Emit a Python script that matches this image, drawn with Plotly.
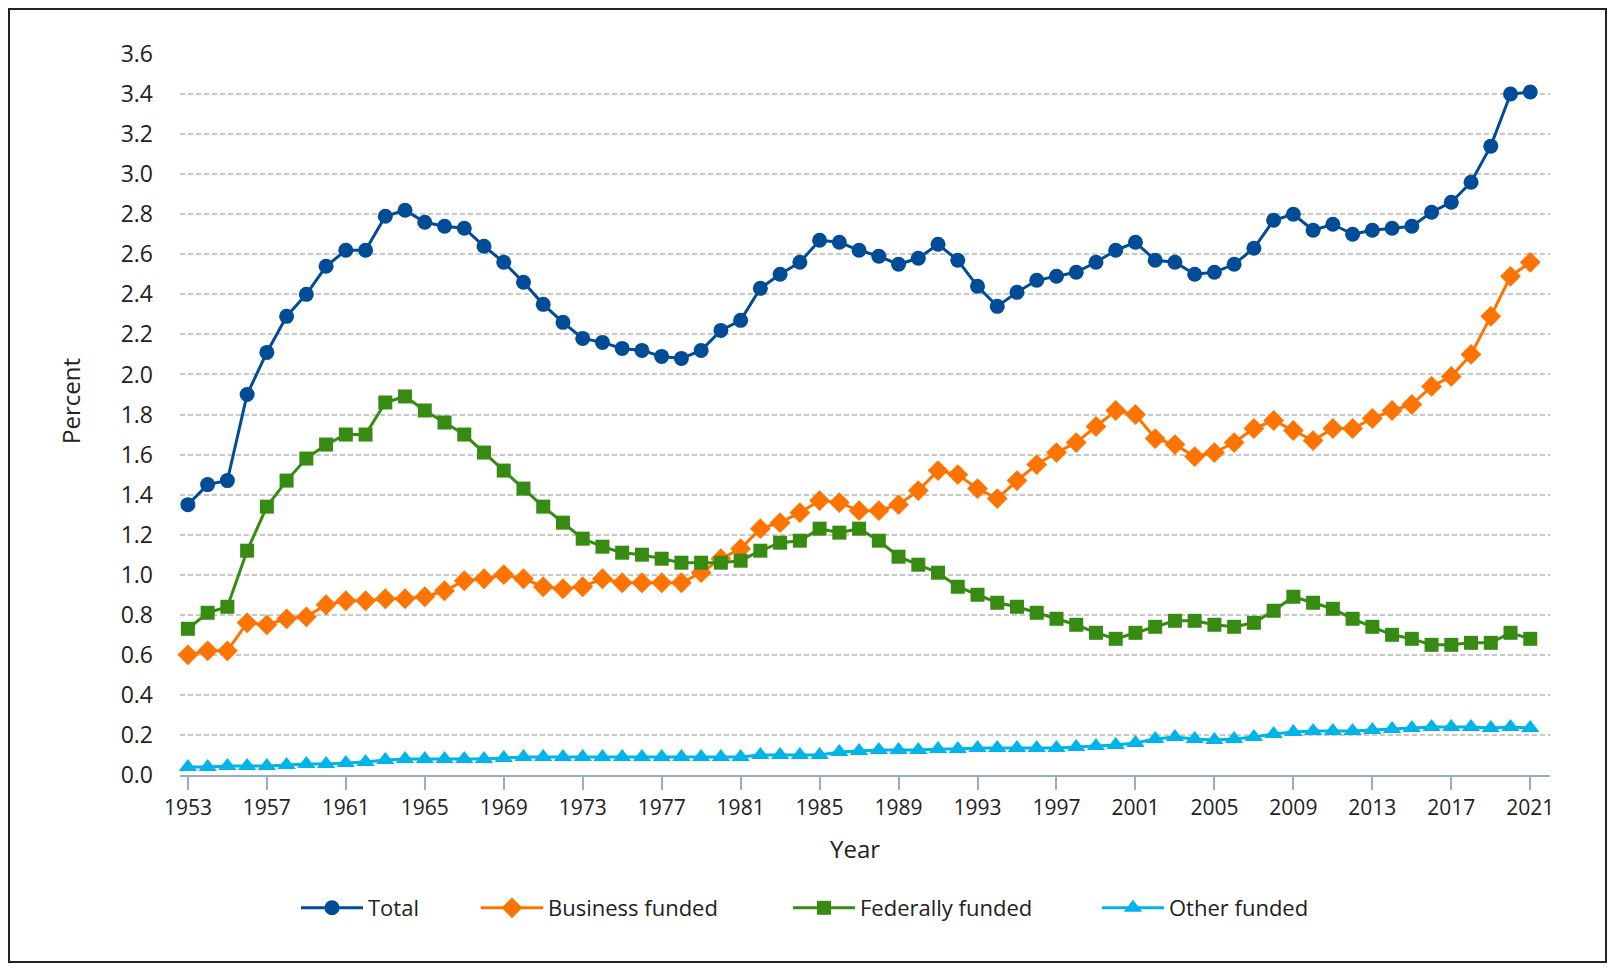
import plotly.graph_objects as go

years = list(range(1953, 2022))

total = [1.35, 1.45, 1.47, 1.90, 2.11, 2.29, 2.40, 2.54, 2.62, 2.62,
         2.79, 2.82, 2.76, 2.74, 2.73, 2.64, 2.56, 2.46, 2.35, 2.26,
         2.18, 2.16, 2.13, 2.12, 2.09, 2.08, 2.12, 2.22, 2.27, 2.43,
         2.50, 2.56, 2.67, 2.66, 2.62, 2.59, 2.55, 2.58, 2.65, 2.57,
         2.44, 2.34, 2.41, 2.47, 2.49, 2.51, 2.56, 2.62, 2.66, 2.57,
         2.56, 2.50, 2.51, 2.55, 2.63, 2.77, 2.80, 2.72, 2.75, 2.70,
         2.72, 2.73, 2.74, 2.81, 2.86, 2.96, 3.14, 3.40, 3.41]

business = [0.60, 0.62, 0.62, 0.76, 0.75, 0.78, 0.79, 0.85, 0.87, 0.87,
            0.88, 0.88, 0.89, 0.92, 0.97, 0.98, 1.00, 0.98, 0.94, 0.93,
            0.94, 0.98, 0.96, 0.96, 0.96, 0.96, 1.01, 1.08, 1.13, 1.23,
            1.26, 1.31, 1.37, 1.36, 1.32, 1.32, 1.35, 1.42, 1.52, 1.50,
            1.43, 1.38, 1.47, 1.55, 1.61, 1.66, 1.74, 1.82, 1.80, 1.68,
            1.65, 1.59, 1.61, 1.66, 1.73, 1.77, 1.72, 1.67, 1.73, 1.73,
            1.78, 1.82, 1.85, 1.94, 1.99, 2.10, 2.29, 2.49, 2.56]

federal = [0.73, 0.81, 0.84, 1.12, 1.34, 1.47, 1.58, 1.65, 1.70, 1.70,
           1.86, 1.89, 1.82, 1.76, 1.70, 1.61, 1.52, 1.43, 1.34, 1.26,
           1.18, 1.14, 1.11, 1.10, 1.08, 1.06, 1.06, 1.06, 1.07, 1.12,
           1.16, 1.17, 1.23, 1.21, 1.23, 1.17, 1.09, 1.05, 1.01, 0.94,
           0.90, 0.86, 0.84, 0.81, 0.78, 0.75, 0.71, 0.68, 0.71, 0.74,
           0.77, 0.77, 0.75, 0.74, 0.76, 0.82, 0.89, 0.86, 0.83, 0.78,
           0.74, 0.70, 0.68, 0.65, 0.65, 0.66, 0.66, 0.71, 0.68]

other = [0.04, 0.04, 0.045, 0.045, 0.045, 0.05, 0.055, 0.055, 0.06, 0.065,
         0.075, 0.08, 0.08, 0.08, 0.08, 0.08, 0.085, 0.09, 0.09, 0.09,
         0.09, 0.09, 0.09, 0.09, 0.09, 0.09, 0.09, 0.09, 0.09, 0.10,
         0.10, 0.10, 0.10, 0.115, 0.12, 0.125, 0.125, 0.125, 0.13, 0.13,
         0.135, 0.135, 0.135, 0.135, 0.135, 0.14, 0.145, 0.15, 0.16, 0.18,
         0.19, 0.18, 0.175, 0.18, 0.19, 0.205, 0.215, 0.22, 0.22, 0.22,
         0.225, 0.23, 0.235, 0.24, 0.24, 0.24, 0.235, 0.24, 0.235]

series_names = ["Total", "Business funded", "Federally funded", "Other funded"]
series_values = [total, business, federal, other]
series_colors = ["#004C97", "#FF7300", "#378A12", "#00B4EA"]
series_symbols = ["circle", "diamond", "square", "triangle-up"]
series_sizes = [15, 16, 14, 16]

x_ticks = list(range(1953, 2022, 4))
y_ticks = [round(0.2 * i, 1) for i in range(19)]
y_ticktext = [f"{v:.1f}" for v in y_ticks]

# The page body has an 8px margin, so figure pixel = screen pixel - 8
OFF = 8
W, H = 1600, 956
L, R, T, B = 180 - OFF, 1550 - OFF, 54 - OFF, 775 - OFF
pw, ph = R - L, B - T


def px_x(p):
    """screen x pixel -> paper x"""
    return (p - OFF - L) / pw


def px_y(p):
    """screen y pixel -> paper y"""
    return (B - (p - OFF)) / ph


fig = go.Figure()
legend_ids = ["legend", "legend2", "legend3", "legend4"]
legend_text_x = [368, 548, 860, 1169]   # screen px where legend texts start
LEG_Y = 908
ITEM_W = 62

for name, vals, col, sym, sz, lid in zip(series_names, series_values, series_colors,
                                          series_symbols, series_sizes, legend_ids):
    fig.add_trace(go.Scatter(
        x=years, y=vals, name=name, mode="lines+markers",
        line=dict(color=col, width=3),
        marker=dict(symbol=sym, size=sz, color=col, line=dict(width=0)),
        cliponaxis=False,
        legend=lid,
    ))

legend_font = dict(family="Open Sans", size=22, color="#222222")
legends = {}
for lid, tx in zip(legend_ids, legend_text_x):
    legends[lid] = dict(
        x=px_x(tx - (ITEM_W + 10)), y=px_y(LEG_Y), xanchor="left", yanchor="middle",
        orientation="h", font=legend_font, bgcolor="rgba(0,0,0,0)",
        borderwidth=0, itemsizing="trace", itemwidth=ITEM_W,
    )

shapes = [dict(type="rect", xref="paper", yref="paper",
               x0=px_x(9), x1=px_x(1606), y0=px_y(962), y1=px_y(9),
               line=dict(color="#222222", width=2), fillcolor="rgba(0,0,0,0)",
               layer="below")]

fig.update_layout(
    width=W, height=H,
    margin=dict(l=L, r=W - R, t=T, b=H - B),
    paper_bgcolor="white", plot_bgcolor="white",
    font=dict(family="Open Sans", color="#222222"),
    showlegend=True,
    **legends,
    xaxis=dict(
        range=[1952.6, 2022.0],
        tickmode="array", tickvals=x_ticks, ticktext=[str(v) for v in x_ticks],
        showgrid=False, zeroline=False,
        showline=True, linecolor="#9AAACB", linewidth=2,
        ticks="outside", ticklen=13, tickwidth=1.5, tickcolor="#9AAACB",
        tickfont=dict(family="Open Sans", size=21, color="#222222"),
    ),
    yaxis=dict(
        range=[0, 3.6],
        tickmode="array", tickvals=y_ticks, ticktext=y_ticktext,
        showgrid=True, gridcolor="#C8C8C8", gridwidth=1.5, griddash="5px,3px",
        zeroline=False, showline=False, ticks="",
        ticklabelstandoff=26,
        tickfont=dict(family="Open Sans", size=23, color="#222222"),
    ),
    annotations=[
        dict(text="Percent", xref="paper", yref="paper", x=px_x(70), y=px_y(401),
             textangle=-90, showarrow=False, xanchor="center", yanchor="middle",
             font=dict(family="Open Sans", size=24, color="#222222")),
        dict(text="Year", xref="paper", yref="paper", x=px_x(855), y=px_y(848),
             showarrow=False, xanchor="center", yanchor="middle",
             font=dict(family="Open Sans", size=24, color="#222222")),
    ],
    shapes=shapes,
)

fig.write_html("out.html")
